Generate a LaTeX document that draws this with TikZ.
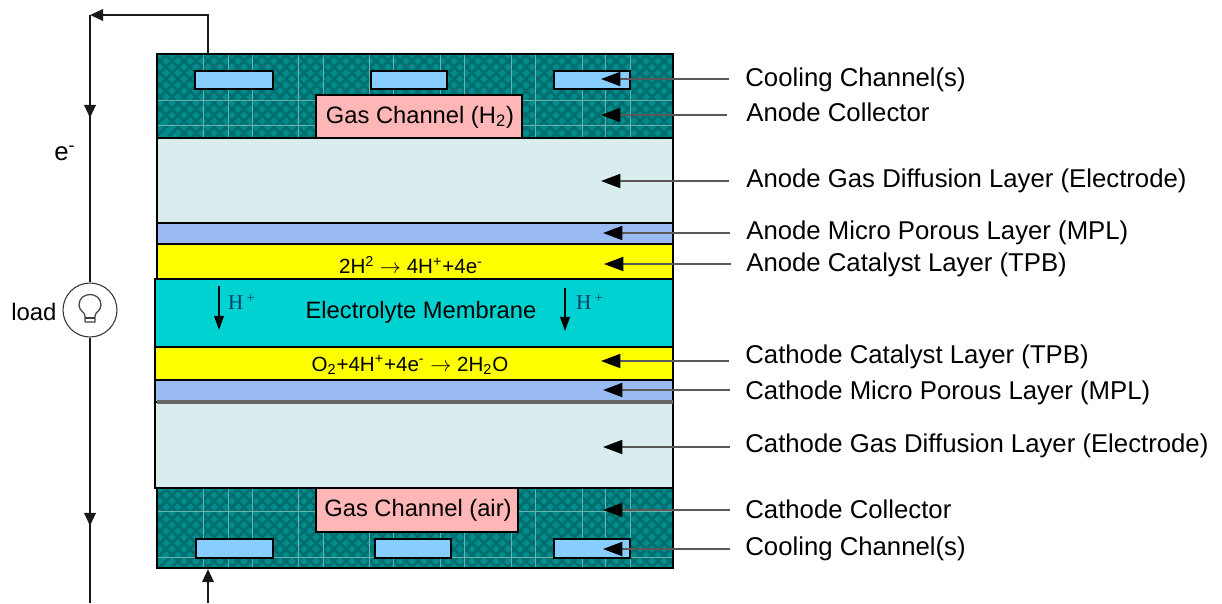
\documentclass[tikz,border=0pt]{standalone}
\usepackage{fontspec}
\setmainfont{Liberation Sans}
\newfontfamily\hfont{Liberation Serif}
\usetikzlibrary{arrows.meta}
\definecolor{collbase}{RGB}{0,140,140}
\definecolor{colldark}{RGB}{0,110,110}
\definecolor{collgrid}{RGB}{105,180,175}
\definecolor{gdlfill}{RGB}{217,237,238}
\definecolor{mplfill}{RGB}{153,187,242}
\definecolor{memfill}{RGB}{0,209,209}
\definecolor{catfill}{RGB}{255,255,0}
\definecolor{gasfill}{RGB}{255,182,182}
\definecolor{coolfill}{RGB}{135,206,255}
\definecolor{hcolor}{RGB}{0,60,110}
\tikzset{
  layer/.style={draw=black,line width=0.8pt},
  channel/.style={draw=black,line width=1.1pt,fill=coolfill},
  gaschan/.style={draw=black,line width=0.9pt,fill=gasfill},
  wire/.style={line width=1.4pt,black!90},
  wirehead/.style={wire,-{Triangle[length=7.5pt,width=6.5pt]}},
  leader/.style={line width=1pt,black!65,-{Triangle[length=11pt,width=8pt,color=black]}},
  thinhead/.style={line width=0.8pt,black,-{Triangle[length=8pt,width=5.5pt]}},
  lbl/.style={anchor=west,inner sep=0pt,font=\fontsize{14.65}{17}\selectfont},
  eqn/.style={inner sep=0pt,font=\fontsize{11.7}{14}\selectfont},
  inlbl/.style={inner sep=0pt,font=\fontsize{13.5}{16}\selectfont},
  hlbl/.style={inner sep=0pt,text=hcolor,font=\hfont\fontsize{12}{14}\selectfont},
}
\begin{document}
\begin{tikzpicture}[x=0.02cm,y=-0.02cm]
      \useasboundingbox (0,0) rectangle (1222,603);

      % current collectors
      \foreach \ytop/\ybot/\ya/\yb in {54/138/100/125,488/568/511/557}{
        \begin{scope}
          \clip (157,\ytop) rectangle (673,\ybot);
          \fill[collbase] (157,\ytop) rectangle (673,\ybot);
          \foreach \d in {0,12,...,720}{
            \draw[colldark,line width=1.6pt] (100+\d,\ytop-5) -- ++(100,100);
            \draw[colldark,line width=1.6pt] (100+\d,\ytop-5) -- ++(-100,100);
          }
          \foreach \x in {203,228,252,298,323,369,393,440,464,511,535,582,605,630}
            \draw[collgrid,line width=0.55pt] (\x,\ytop) -- (\x,\ybot);
          \draw[collgrid,line width=0.55pt] (157,\ya) -- (673,\ya);
          \draw[collgrid,line width=0.55pt] (157,\yb) -- (673,\yb);
        \end{scope}
        \draw[layer] (157,\ytop) rectangle (673,\ybot);
      }

      % layers
      \filldraw[layer,fill=gdlfill] (157,138.5) rectangle (673,223);
      \filldraw[layer,fill=mplfill] (157,223) rectangle (673,244);
      \filldraw[layer,fill=catfill] (157,244) rectangle (673,279);
      \filldraw[layer,fill=memfill] (155,279) rectangle (673,347);
      \filldraw[layer,fill=catfill] (155,347) rectangle (673,380);
      \filldraw[layer,fill=mplfill] (155,380) rectangle (673,402);
      \filldraw[layer,fill=gdlfill] (155,402) rectangle (673,488);
      \draw[line width=1.2pt,black] (157,138) -- (673,138);
      \draw[line width=1.1pt,black] (157,244) -- (673,244);
      \draw[line width=1.8pt,black!60] (157,402) -- (673,402);

      % cooling and gas channels
      \filldraw[channel] (195,71) rectangle (273,89);
      \filldraw[channel] (371,71) rectangle (447,89);
      \filldraw[channel] (554,71) rectangle (630,89);
      \filldraw[channel] (196,539) rectangle (273,558);
      \filldraw[channel] (375,539) rectangle (451,558);
      \filldraw[channel] (554,539) rectangle (630,558);
      \filldraw[gaschan] (316,95) rectangle (522,138);
      \filldraw[gaschan] (316,488) rectangle (518,532);

      \node[inlbl] (gasanode) at (420,117) {Gas Channel (H\textsubscript{2})};
      \node[inlbl] (gascathode) at (418,510) {Gas Channel (air)};
      \node[inlbl] (membrane) at (421,312) {Electrolyte Membrane};
      \node[eqn] (anodeeq) at (411,265) {2H\textsuperscript{2} $\rightarrow$ 4H\textsuperscript{+}+4e\textsuperscript{-}};
      \node[eqn] (cathodeeq) at (410,365) {O\textsubscript{2}+4H\textsuperscript{+}+4e\textsuperscript{-} $\rightarrow$ 2H\textsubscript{2}O};

      % proton arrows
      \node[hlbl] (hleft) at (242,302) {H\,\textsuperscript{+}};
      \node[hlbl] (hright) at (590,302) {H\,\textsuperscript{+}};
      \coordinate (hla) at (219,286);
      \coordinate (hlb) at (219,330);
      \coordinate (hra) at (565,288);
      \coordinate (hrb) at (565,331);
      \draw[thinhead] (hla) -- (hlb);
      \draw[thinhead] (hra) -- (hrb);

      % external circuit
      \node[circle,draw=black!80,line width=0.6pt,minimum size=1.08cm,inner sep=0pt] (bulb) at (90,310) {};
      \node[lbl,font=\fontsize{13.6}{16}\selectfont] (loadlbl) at (11,312) {load};
      \node[lbl] (elbl) at (54,153) {e\textsuperscript{-}};
      \draw[black!75,line width=0.7pt] (85,322) -- (85,316) .. controls (85,312) and (79,311) .. (79,305)
        .. controls (79,291) and (101,291) .. (101,305) .. controls (101,311) and (95,312) .. (95,316) -- (95,322) -- (85,322);
      \draw[black!75,line width=0.7pt] (85,318) -- (95,318);
      \coordinate (anodeout) at (208,54);
      \coordinate (topright) at (208,15);
      \coordinate (topleft) at (90,15);
      \coordinate (wirea) at (90,118);
      \coordinate (wireb) at (90,526);
      \coordinate (wireend) at (90,603);
      \coordinate (cathin) at (208,603);
      \coordinate (cathtip) at (208,569);
      \draw[wirehead] (anodeout) -- (topright) -- (topleft);
      \draw[wire] (topleft) -- (bulb.north);
      \draw[wirehead] (topleft) -- (wirea);
      \draw[wire] (bulb.south) -- (wireend);
      \draw[wirehead] (bulb.south) -- (wireb);
      \draw[wirehead] (cathin) -- (cathtip);

      % labels on the right
      \node[lbl] (coolanode) at (745,80) {Cooling Channel(s)};
      \node[lbl] (collanode) at (746,112) {Anode Collector};
      \node[lbl] (gdlanode) at (746,181) {Anode Gas Diffusion Layer (Electrode)};
      \node[lbl] (mplanode) at (746,233) {Anode Micro Porous Layer (MPL)};
      \node[lbl] (catanode) at (746,265) {Anode Catalyst Layer (TPB)};
      \node[lbl] (catcathode) at (745,357) {Cathode Catalyst Layer (TPB)};
      \node[lbl] (mplcathode) at (745,393) {Cathode Micro Porous Layer (MPL)};
      \node[lbl] (gdlcathode) at (745,446) {Cathode Gas Diffusion Layer (Electrode)};
      \node[lbl] (collcathode) at (745,509) {Cathode Collector};
      \node[lbl] (coolcathode) at (745,549) {Cooling Channel(s)};

      \coordinate (tcoolanode) at (601,79);
      \coordinate (tcollanode) at (601,115);
      \coordinate (tgdlanode) at (601,181);
      \coordinate (tmplanode) at (603,233);
      \coordinate (tcatanode) at (604,264);
      \coordinate (tcatcathode) at (601,361);
      \coordinate (tmplcathode) at (603,390);
      \coordinate (tgdlcathode) at (603,447);
      \coordinate (tcollcathode) at (603,510);
      \coordinate (tcoolcathode) at (603,549);

      \draw[leader] ([xshift=-0.32cm]coolanode.west |- tcoolanode) -- (tcoolanode);
      \draw[leader] ([xshift=-0.38cm]collanode.west |- tcollanode) -- (tcollanode);
      \draw[leader] ([xshift=-0.34cm]gdlanode.west |- tgdlanode) -- (tgdlanode);
      \draw[leader] ([xshift=-0.32cm]mplanode.west |- tmplanode) -- (tmplanode);
      \draw[leader] ([xshift=-0.3cm]catanode.west |- tcatanode) -- (tcatanode);
      \draw[leader] ([xshift=-0.32cm]catcathode.west |- tcatcathode) -- (tcatcathode);
      \draw[leader] ([xshift=-0.3cm]mplcathode.west |- tmplcathode) -- (tmplcathode);
      \draw[leader] ([xshift=-0.3cm]gdlcathode.west |- tgdlcathode) -- (tgdlcathode);
      \draw[leader] ([xshift=-0.3cm]collcathode.west |- tcollcathode) -- (tcollcathode);
      \draw[leader] ([xshift=-0.3cm]coolcathode.west |- tcoolcathode) -- (tcoolcathode);
    \end{tikzpicture}
\end{document}
